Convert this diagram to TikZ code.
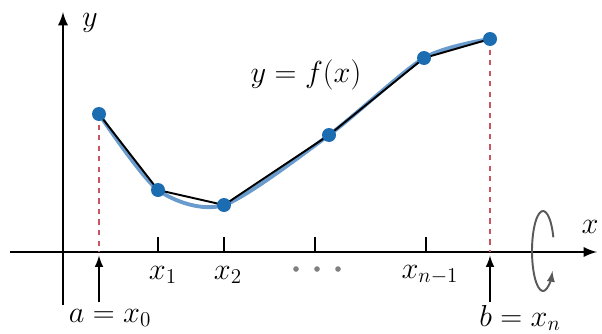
\documentclass[tikz,border=0pt]{standalone}
\usepackage{tikz}
\definecolor{ptblue}{RGB}{28,108,178}
\definecolor{curveblue}{RGB}{105,155,205}
\definecolor{dashred}{RGB}{200,85,95}
\begin{document}
\begin{tikzpicture}
        \useasboundingbox (0, 0) rectangle (12.04, 6.66);
        \tikzset{axis/.style={line width=1.6pt, -latex}}
        \def\bigfont{\fontsize{17}{20}\selectfont}

        \coordinate (p0) at (1.98, 4.38);
        \coordinate (p1) at (3.16, 2.86);
        \coordinate (p2) at (4.48, 2.56);
        \coordinate (p3) at (6.58, 3.96);
        \coordinate (p4) at (8.48, 5.50);
        \coordinate (p5) at (9.80, 5.88);

        % axes
        \draw[axis] (0.2, 1.62) -- (11.94, 1.62);
        \draw[axis] (1.26, 0.56) -- (1.26, 6.42);
        \node[font=\bigfont] (ylab) at (1.8, 6.2) {$y$};
        \node[font=\bigfont] (xlab) at (11.8, 2.12) {$x$};

        % ends of the interval
        \coordinate (a) at (1.98, 1.62);
        \coordinate (b) at (9.80, 1.62);
        \draw[dashred, dashed, line width=1pt] (p0) -- (a);
        \draw[dashred, dashed, line width=1pt] (p5) -- (b);
        \node[font=\bigfont] (alab) at (2.2, 0.3) {$a = x_0$};
        \node[font=\bigfont] (blab) at (10.4, 0.3) {$b = x_n$};
        \draw[line width=1.2pt, -latex] (1.98, 0.62) -- ([yshift=-2pt]a);
        \draw[line width=1.2pt, -latex] (9.80, 0.62) -- ([yshift=-2pt]b);

        % ticks
        \foreach \x in {3.16, 4.48, 6.30, 8.52}
            \draw[line width=1.4pt] (\x, 1.62) -- (\x, 1.92);
        \node[font=\bigfont] (x1) at (3.26, 1.16) {$x_1$};
        \node[font=\bigfont] (x2) at (4.56, 1.16) {$x_2$};
        \node[font=\bigfont] (xn1) at (8.6, 1.16) {$x_{n-1}$};
        \foreach \x in {5.92, 6.34, 6.76}
            \fill[gray] (\x, 1.28) circle (1.6pt);

        % curve and polygon
        \draw[curveblue, line width=2.2pt] plot[smooth, tension=0.45]
            coordinates {(1.98, 4.38) (3.16, 2.86) (4.48, 2.56) (6.58, 3.96) (8.48, 5.50) (9.80, 5.88)};
        \draw[line width=1.1pt] (p0) -- (p1) -- (p2) -- (p3) -- (p4) -- (p5);
        \foreach \p in {p0, p1, p2, p3, p4, p5}
            \fill[ptblue] (\p) circle (0.14);
        \node[font=\bigfont] (flab) at (6.12, 5.16) {$y = f(x)$};

        % rotation about the x-axis
        \draw[gray!70!black, line width=1.1pt, -latex]
            (10.86, 1.64) ++(20:0.22 and 0.80) arc[start angle=20, end angle=330, x radius=0.22, y radius=0.80];
     \end{tikzpicture}
\end{document}
